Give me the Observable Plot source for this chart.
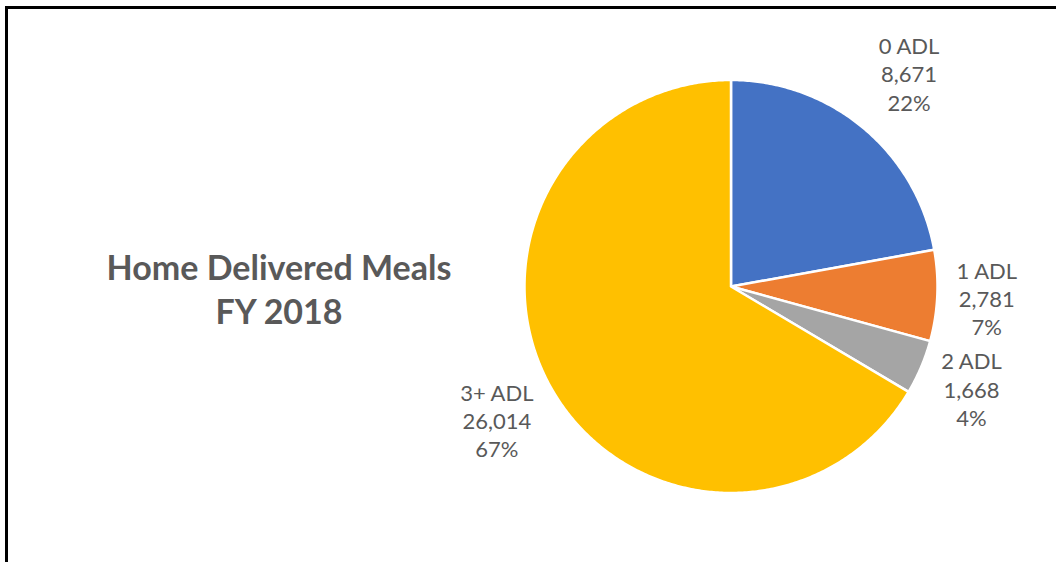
<!DOCTYPE html>
<html>
<head>
<meta charset="utf-8">
<script src="https://cdn.jsdelivr.net/npm/d3@7"></script>
<script src="https://cdn.jsdelivr.net/npm/@observablehq/plot@0.6"></script>
<style>
  html, body { margin: 0; padding: 0; background: #fff; }
  #wrap { position: relative; width: 1056px; height: 562px; overflow: hidden; }
  #frame { position: absolute; left: 5px; top: 6px; right: -10px; bottom: -10px;
           border-top: 3px solid #000; border-left: 3px solid #000; }
  #title { position: absolute; left: 79px; top: 245px; width: 400px; text-align: center;
           font-family: Lato, "Open Sans", sans-serif; font-weight: bold; font-size: 34px;
           line-height: 44px; color: #595959; }
  #chart { position: absolute; left: 0; top: 0; }
</style>
</head>
<body>
<div id="wrap">
  <div id="chart"></div>
  <div id="frame"></div>
  <div id="title">Home Delivered Meals<br>FY 2018</div>
</div>
<script>
// ---- data ----
const categories = ["0 ADL", "1 ADL", "2 ADL", "3+ ADL"];
const counts = [8671, 2781, 1668, 26014];
const percentLabels = ["22%", "7%", "4%", "67%"];
const colors = ["#4472C4", "#ED7D31", "#A5A5A5", "#FFC000"];

// ---- layout (pixels / style, not data) ----
const W = 1056, H = 562;
const cx = 730.5, cy = 286, R = 206.5;       // pie centre and radius in pixels
const labelRadius = [1.345, 1.24, 1.265, 1.305]; // label distance in radii

const arcs = d3.pie().sort(null).value(d => d)(counts);

// slice outlines in unit (radius = 1) coordinates, y pointing up
const slicePts = [];
arcs.forEach((a, i) => {
  const n = Math.max(8, Math.ceil((a.endAngle - a.startAngle) / 0.01));
  slicePts.push({cat: categories[i], x: 0, y: 0});
  for (let k = 0; k <= n; k++) {
    const t = a.startAngle + (a.endAngle - a.startAngle) * k / n;
    slicePts.push({cat: categories[i], x: Math.sin(t), y: Math.cos(t)});
  }
  slicePts.push({cat: categories[i], x: 0, y: 0});
});

const labels = arcs.map((a, i) => {
  const m = (a.startAngle + a.endAngle) / 2;
  return {
    x: labelRadius[i] * Math.sin(m),
    y: labelRadius[i] * Math.cos(m),
    text: `${categories[i]}\n${d3.format(",")(counts[i])}\n${percentLabels[i]}`
  };
});

const chart = Plot.plot({
  width: W, height: H,
  margin: 0,
  x: {domain: [-cx / R, (W - cx) / R], axis: null},
  y: {domain: [-(H - cy) / R, cy / R], axis: null},
  color: {domain: categories, range: colors},
  style: {fontFamily: "Lato, 'Open Sans', sans-serif", background: "transparent"},
  marks: [
    Plot.line(slicePts, {x: "x", y: "y", z: "cat", fill: "cat", stroke: "white",
                         strokeWidth: 2.5, strokeLinejoin: "round", curve: "linear"}),
    Plot.text(labels, {x: "x", y: "y", text: "text", fill: "#595959",
                       fontSize: 22, lineHeight: 1.29, lineAnchor: "middle", textAnchor: "middle"})
  ]
});
document.getElementById("chart").appendChild(chart);
</script>
</body>
</html>
